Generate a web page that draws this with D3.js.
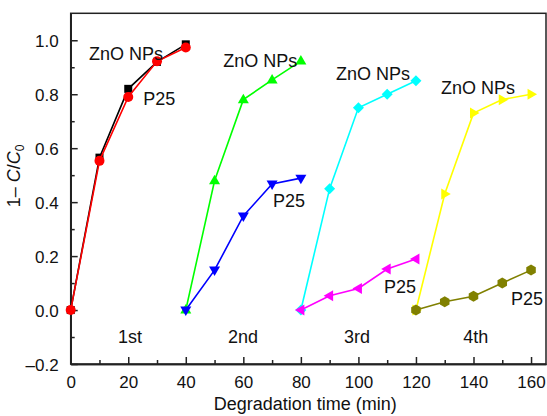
<!DOCTYPE html>
<html><head><meta charset="utf-8">
<script src="https://cdn.jsdelivr.net/npm/d3@7"></script>
<style>
html,body{margin:0;padding:0;background:#fff;}
svg text{font-family:"Liberation Sans",Arial,sans-serif;fill:#111;}
</style></head>
<body><svg id="c" width="547" height="416"></svg>
<script>
// ---- data ----
const time1 = [0, 10, 20, 30, 40];
const time2 = [40, 50, 60, 70, 80];
const time3 = [80, 90, 100, 110, 120];
const time4 = [120, 130, 140, 150, 160];
const zno1 = [0, 0.565, 0.82, 0.92, 0.985];
const p25_1 = [0, 0.553, 0.79, 0.922, 0.973];
const zno2 = [0, 0.479, 0.78, 0.853, 0.923];
const p25_2 = [0, 0.148, 0.349, 0.467, 0.489];
const zno3 = [0, 0.45, 0.75, 0.80, 0.85];
const p25_3 = [0, 0.053, 0.08, 0.152, 0.189];
const zno4 = [0, 0.43, 0.73, 0.78, 0.80];
const p25_4 = [0, 0.031, 0.051, 0.10, 0.148];
const xTicks = [0, 20, 40, 60, 80, 100, 120, 140, 160];
const yTicks = [-0.2, 0, 0.2, 0.4, 0.6, 0.8, 1.0];
const runLabels = ["1st", "2nd", "3rd", "4th"];

const series = [
  {t: time1, v: zno1, color: "#000000", m: "square"},
  {t: time1, v: p25_1, color: "#ff0000", m: "circle"},
  {t: time2, v: zno2, color: "#00ff00", m: "up"},
  {t: time2, v: p25_2, color: "#0000ff", m: "down"},
  {t: time3, v: zno3, color: "#00ffff", m: "diamond"},
  {t: time3, v: p25_3, color: "#ff00ff", m: "left"},
  {t: time4, v: zno4, color: "#ffff00", m: "right"},
  {t: time4, v: p25_4, color: "#808000", m: "hex"}
];

const svg = d3.select("#c");
const L = 70.7, R = 546, T = 13.3, B = 364;
const x = d3.scaleLinear().domain([0, 165.2]).range([L, R]);
const y = d3.scaleLinear().domain([-0.2, 1.1]).range([B, T]);

function markerPath(type) {
  const p = d3.path();
  if (type === "square") { p.rect(-4, -4, 8, 8); }
  else if (type === "circle") { p.arc(0, 0, 5, 0, 2 * Math.PI); }
  else if (type === "diamond") { p.moveTo(0, -5.5); p.lineTo(5.5, 0); p.lineTo(0, 5.5); p.lineTo(-5.5, 0); p.closePath(); }
  else if (type === "hex") {
    for (let i = 0; i < 6; i++) { const a = Math.PI / 6 + i * Math.PI / 3; const px = 5.5 * Math.cos(a), py = 5.5 * Math.sin(a); if (i === 0) p.moveTo(px, py); else p.lineTo(px, py); }
    p.closePath();
  } else {
    // triangle pointing up, rotated as needed
    const pts = [[0, -6], [5.5, 3.5], [-5.5, 3.5]];
    const rot = {up: 0, down: Math.PI, left: -Math.PI / 2, right: Math.PI / 2}[type];
    pts.forEach(([px, py], i) => {
      const qx = px * Math.cos(rot) - py * Math.sin(rot), qy = px * Math.sin(rot) + py * Math.cos(rot);
      if (i === 0) p.moveTo(qx, qy); else p.lineTo(qx, qy);
    });
    p.closePath();
  }
  return p.toString();
}

// frame
svg.append("rect").attr("x", L).attr("y", T).attr("width", R - L).attr("height", B - T)
  .attr("fill", "none").attr("stroke", "#222").attr("stroke-width", 1.5);

// axes with inward ticks
const xAxis = svg.append("g").attr("transform", `translate(0,${B})`)
  .call(d3.axisBottom(x).tickValues(xTicks).tickSizeInner(-7).tickSizeOuter(0).tickPadding(12).tickFormat(d3.format("d")));
const xMinor = svg.append("g").attr("transform", `translate(0,${B})`)
  .call(d3.axisBottom(x).tickValues(d3.range(10, 170, 20)).tickSizeInner(-4).tickSizeOuter(0).tickFormat(""));
const yAxis = svg.append("g").attr("transform", `translate(${L},0)`)
  .call(d3.axisLeft(y).tickValues(yTicks).tickSizeInner(-7).tickSizeOuter(0).tickPadding(12)
    .tickFormat(d => d < 0 ? "\u2013" + d3.format(".1f")(-d) : d3.format(".1f")(d)));
const yMinor = svg.append("g").attr("transform", `translate(${L},0)`)
  .call(d3.axisLeft(y).tickValues([-0.1, 0.1, 0.3, 0.5, 0.7, 0.9]).tickSizeInner(-4).tickSizeOuter(0).tickFormat(""));
[xAxis, xMinor, yAxis, yMinor].forEach(g => {
  g.select(".domain").attr("stroke", "#222").attr("stroke-width", 1.5);
  g.selectAll(".tick line").attr("stroke", "#222").attr("stroke-width", 1.5);
  g.selectAll(".tick text").attr("font-size", 17).attr("fill", "#111")
    .style("font-family", "'Liberation Sans', Arial, sans-serif");
});
yAxis.selectAll(".tick text").attr("dy", "0.36em");

// series
const line = d3.line().x(d => x(d[0])).y(d => y(d[1]));
series.forEach(s => {
  const pts = s.t.map((t, i) => [t, s.v[i]]);
  const g = svg.append("g");
  g.append("path").attr("d", line(pts)).attr("fill", "none").attr("stroke", s.color).attr("stroke-width", 1.6);
  g.selectAll("path.m").data(pts).join("path").attr("class", "m")
    .attr("transform", d => `translate(${x(d[0])},${y(d[1])})`)
    .attr("d", markerPath(s.m)).attr("fill", s.color);
});

// annotations
const ann = [
  ["ZnO NPs", 6.4, 0.928], ["P25", 25.2, 0.761],
  ["ZnO NPs", 53.0, 0.902], ["P25", 70.3, 0.383],
  ["ZnO NPs", 92.2, 0.854], ["P25", 108.9, 0.065],
  ["ZnO NPs", 128.7, 0.802], ["P25", 153.0, 0.020]
];
ann.forEach(([t, ax, ay]) => svg.append("text").attr("x", x(ax)).attr("y", y(ay)).attr("font-size", 18).text(t));
const runX = [16.4, 54.7, 95.0, 136.4];
runLabels.forEach((t, i) => svg.append("text").attr("x", x(runX[i])).attr("y", y(-0.124)).attr("font-size", 18).text(t));

// axis titles
svg.append("text").attr("x", (L + R) / 2 - 3).attr("y", 410).attr("text-anchor", "middle").attr("font-size", 18)
  .text("Degradation time (min)");
const yt = svg.append("text").attr("transform", "translate(20,176) rotate(-90)").attr("text-anchor", "middle").attr("font-size", 18);
yt.append("tspan").text("1\u2013 ");
yt.append("tspan").attr("font-style", "italic").text("C");
yt.append("tspan").text("/");
yt.append("tspan").attr("font-style", "italic").text("C");
yt.append("tspan").attr("font-size", 12).attr("dy", 4).text("0");
</script></body></html>
